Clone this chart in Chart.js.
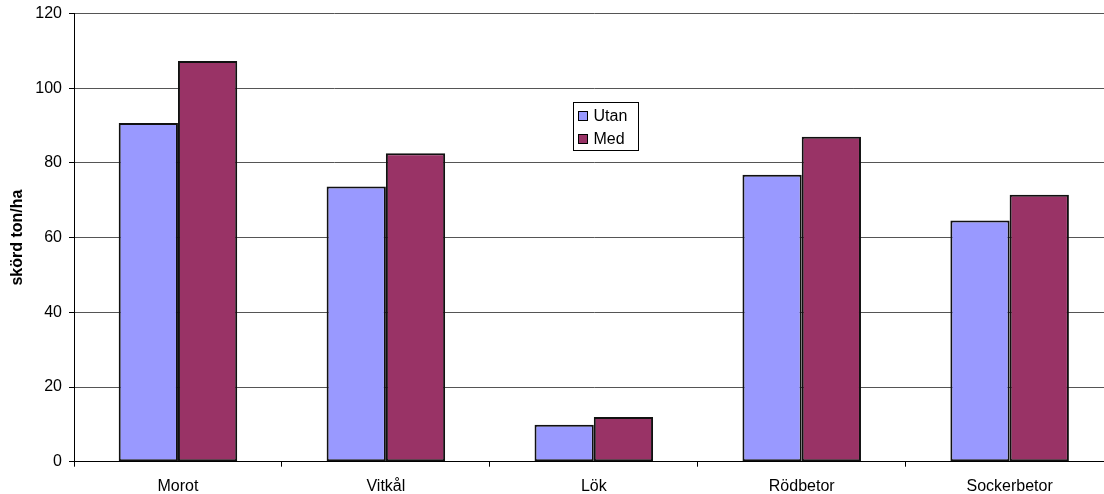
<!DOCTYPE html>
<html>
<head>
<meta charset="utf-8">
<script src="https://cdn.jsdelivr.net/npm/chart.js@4/dist/chart.umd.min.js"></script>
<style>
  html, body { margin: 0; padding: 0; background: #fff; overflow: hidden; }
  #wrap { width: 1120px; height: 494px; position: relative; }
</style>
</head>
<body>
<div id="wrap"><canvas id="chart"></canvas></div>
<script>
// Crops and yield per treatment (ton/ha)
const categories = ['Morot', 'Vitkål', 'Lök', 'Rödbetor', 'Sockerbetor'];
const utan = [90.7, 73.7, 9.9, 76.8, 64.6];
const med = [107.3, 82.6, 12.0, 87.0, 71.5];
const seriesNames = ['Utan', 'Med'];
const seriesColors = ['#9999FF', '#993366'];
const yTicks = [0, 20, 40, 60, 80, 100, 120];

const FONT = '"Liberation Sans", Arial, sans-serif';

// Small boxed legend drawn inside the plot area
const boxLegend = {
  id: 'boxLegend',
  afterDraw(chart) {
    const { ctx, chartArea: a } = chart;
    const x = Math.round(a.left + (a.right - a.left) * 0.48) + 0.5;
    const y = Math.round(a.top + (a.bottom - a.top) * 0.1975) + 0.5;
    const w = 65, h = 48, rowH = 23;
    ctx.save();
    ctx.fillStyle = '#fff';
    ctx.strokeStyle = '#000';
    ctx.lineWidth = 1;
    ctx.fillRect(x, y, w, h);
    ctx.strokeRect(x, y, w, h);
    ctx.font = '16px ' + FONT;
    ctx.textBaseline = 'middle';
    chart.data.datasets.forEach((ds, i) => {
      const cy = y + 13 + i * rowH;
      ctx.fillStyle = ds.backgroundColor;
      ctx.fillRect(x + 5, Math.round(cy - 5) + 0.5, 9, 9);
      ctx.strokeRect(x + 5, Math.round(cy - 5) + 0.5, 9, 9);
      ctx.fillStyle = '#000';
      ctx.fillText(ds.label, x + 20, cy + 1);
    });
    ctx.restore();
  }
};

new Chart(document.getElementById('chart'), {
  type: 'bar',
  data: {
    labels: categories,
    datasets: [
      { label: seriesNames[0], data: utan, backgroundColor: seriesColors[0] },
      { label: seriesNames[1], data: med, backgroundColor: seriesColors[1] }
    ].map(d => Object.assign(d, {
      borderColor: '#111', borderWidth: 2, borderSkipped: false,
      categoryPercentage: 0.57, barPercentage: 1.0
    }))
  },
  options: {
    responsive: true,
    maintainAspectRatio: false,
    animation: false,
    events: [],
    layout: { padding: { top: 13.5, right: 6.4, bottom: 0, left: 0 } },
    plugins: { legend: { display: false }, tooltip: { enabled: false } },
    scales: {
      x: {
        offset: true,
        grid: {
          offset: true, drawOnChartArea: false, tickLength: 5,
          color: '#000', tickColor: '#000'
        },
        border: { color: '#000', width: 1 },
        ticks: { color: '#000', font: { family: FONT, size: 16 }, padding: 10, maxRotation: 0 },
        afterFit(s) { s.height = 32.3; }
      },
      y: {
        min: 0, max: 120,
        afterBuildTicks(s) { s.ticks = yTicks.map(v => ({ value: v })); },
        grid: { color: '#555', tickColor: '#000', tickLength: 5, lineWidth: 1 },
        border: { color: '#000', width: 1 },
        ticks: { color: '#000', font: { family: FONT, size: 16 }, padding: 7 },
        title: {
          display: true, text: 'skörd ton/ha', color: '#000',
          font: { family: FONT, size: 16, weight: 'bold' },
          padding: { top: 8, bottom: 0 }
        },
        afterFit(s) {
          s.width = 74;
          s.paddingTop = 0;
          s.paddingBottom = 0;
        }
      }
    }
  },
  plugins: [boxLegend]
});
</script>
</body>
</html>
